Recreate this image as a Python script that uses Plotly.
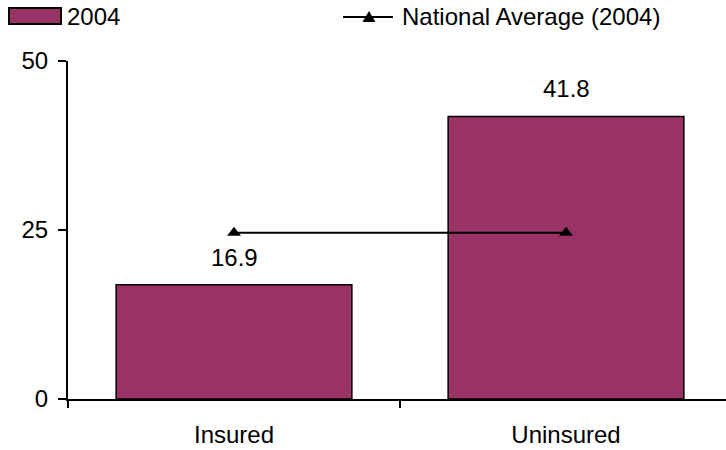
import plotly.graph_objects as go

# Chart data
categories = ["Insured", "Uninsured"]
values_2004 = [16.9, 41.8]
national_avg = [24.6, 24.6]
y_ticks = [0, 25, 50]
series_names = ["2004", "National Average (2004)"]

FONT = "Liberation Sans, Arial, sans-serif"
FONT_SIZE = 24
BAR_COLOR = "#993366"

W, H = 726, 450
M_L, M_R, M_T, M_B = 68, 0, 61, 51
PLOT_W = W - M_L - M_R
PLOT_H = H - M_T - M_B


def px_x(px):
    """Horizontal pixel position -> paper coordinate."""
    return (px - M_L) / PLOT_W


def px_y(py):
    """Vertical pixel position (from top) -> paper coordinate."""
    return (H - M_B - py) / PLOT_H


fig = go.Figure()

fig.add_trace(go.Bar(
    x=categories,
    y=values_2004,
    name=series_names[0],
    width=0.71,
    marker=dict(color=BAR_COLOR, line=dict(color="black", width=1.5)),
    showlegend=False,
))

fig.add_trace(go.Scatter(
    x=categories,
    y=national_avg,
    name=series_names[1],
    mode="lines+markers",
    line=dict(color="black", width=2),
    marker=dict(symbol="triangle-up", size=12, color="black"),
    showlegend=False,
))

# Value labels above the bars
annotations = [
    dict(x=c, y=v, xref="x", yref="y", text=f"{v:.1f}", showarrow=False,
         yanchor="bottom", yshift=12,
         font=dict(size=FONT_SIZE, family=FONT, color="black"))
    for c, v in zip(categories, values_2004)
]

# Legend drawn across the top
legend_y = 16
annotations += [
    dict(x=px_x(65), y=px_y(legend_y), xref="paper", yref="paper",
         text=series_names[0], showarrow=False, xanchor="left", yanchor="middle",
         font=dict(size=FONT_SIZE, family=FONT, color="black")),
    dict(x=px_x(400), y=px_y(legend_y), xref="paper", yref="paper",
         text=series_names[1], showarrow=False, xanchor="left", yanchor="middle",
         font=dict(size=FONT_SIZE, family=FONT, color="black")),
]

tri_cx, tri_cy = 369, 17
tri_path = "M {} {} L {} {} L {} {} Z".format(
    px_x(tri_cx - 6.5), px_y(tri_cy + 5),
    px_x(tri_cx + 6.5), px_y(tri_cy + 5),
    px_x(tri_cx), px_y(tri_cy - 6),
)

shapes = [
    dict(type="rect", xref="paper", yref="paper",
         x0=px_x(9), x1=px_x(61), y0=px_y(24), y1=px_y(8),
         fillcolor=BAR_COLOR, line=dict(color="black", width=2)),
    dict(type="line", xref="paper", yref="paper",
         x0=px_x(343), x1=px_x(393), y0=px_y(tri_cy), y1=px_y(tri_cy),
         line=dict(color="black", width=2)),
    dict(type="path", xref="paper", yref="paper", path=tri_path,
         fillcolor="black", line=dict(color="black", width=0)),
]

fig.update_layout(
    width=W,
    height=H,
    margin=dict(l=M_L, r=M_R, t=M_T, b=M_B),
    paper_bgcolor="white",
    plot_bgcolor="white",
    font=dict(family=FONT, size=FONT_SIZE, color="black"),
    showlegend=False,
    annotations=annotations,
    shapes=shapes,
    xaxis=dict(
        type="category",
        range=[-0.5, -0.5 + PLOT_W / 332],
        showline=True, linecolor="black", linewidth=2,
        ticks="outside", ticklen=7, tickwidth=2, tickcolor="black",
        tickson="boundaries",
        ticklabelstandoff=13,
        showgrid=False, zeroline=False,
        tickfont=dict(size=FONT_SIZE, family=FONT, color="black"),
    ),
    yaxis=dict(
        range=[0, 50],
        tickvals=y_ticks,
        showline=True, linecolor="black", linewidth=2,
        ticks="outside", ticklen=8, tickwidth=2, tickcolor="black",
        ticklabelstandoff=5,
        showgrid=False, zeroline=False,
        tickfont=dict(size=FONT_SIZE, family=FONT, color="black"),
    ),
)

fig.write_html("out.html")
